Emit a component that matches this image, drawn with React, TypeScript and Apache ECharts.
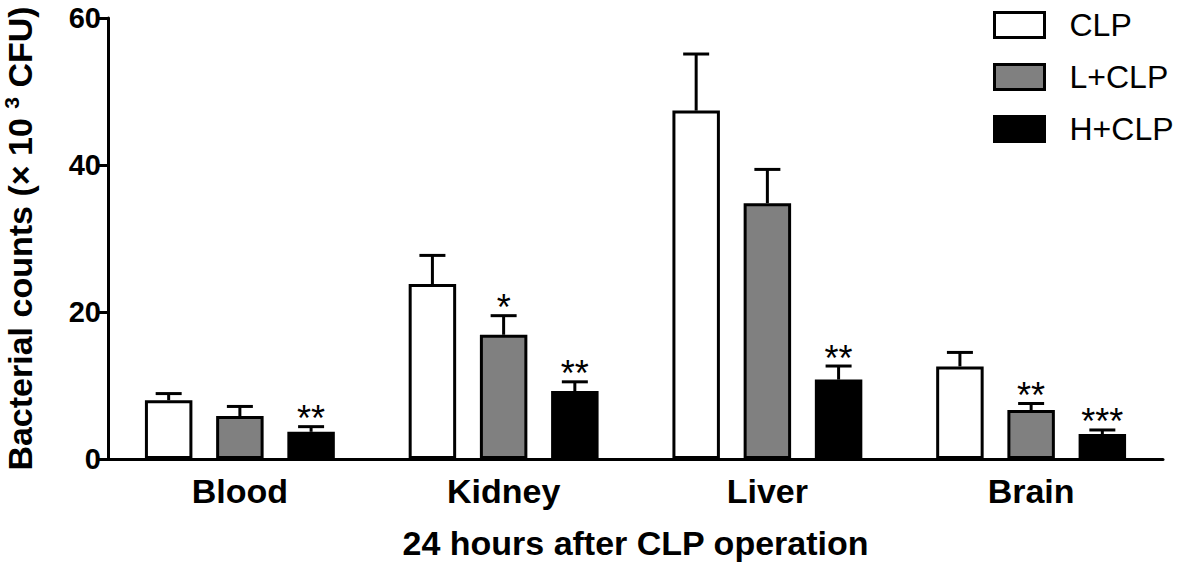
import React, { useEffect, useRef } from "react";
import * as echarts from "echarts";

const categories = ["Blood", "Kidney", "Liver", "Brain"];
const seriesNames = ["CLP", "L+CLP", "H+CLP"];
const clpValues = [8.0, 23.8, 47.4, 12.6];
const clpErrors = [0.9, 3.9, 7.7, 1.9];
const lclpValues = [5.85, 16.9, 34.8, 6.65];
const lclpErrors = [1.3, 2.6, 4.6, 0.9];
const hclpValues = [3.7, 9.25, 10.8, 3.4];
const hclpErrors = [0.7, 1.25, 1.85, 0.55];
const clpStars = ["", "", "", ""];
const lclpStars = ["", "*", "", "**"];
const hclpStars = ["**", "**", "**", "***"];
const yTicks = [0, 20, 40, 60];

const FONT = "Arial, 'Liberation Sans', Helvetica, sans-serif";
const BAR_FRAC = 0.18;
const GAP_FRAC = 0.5;

export default function App() {
  const ref = useRef<HTMLDivElement>(null);
  useEffect(() => {
    if (!ref.current) return;
    const chart = echarts.init(ref.current, null, { renderer: "svg" });
    const groups = [
      { name: seriesNames[0], values: clpValues, errors: clpErrors, stars: clpStars, color: "#ffffff" },
      { name: seriesNames[1], values: lclpValues, errors: lclpErrors, stars: lclpStars, color: "#808080" },
      { name: seriesNames[2], values: hclpValues, errors: hclpErrors, stars: hclpStars, color: "#000000" },
    ];
    const barSeries = groups.map((g) => ({
      type: "bar",
      name: g.name,
      data: g.values,
      barWidth: BAR_FRAC * 100 + "%",
      barGap: GAP_FRAC * 100 + "%",
      itemStyle: { color: g.color, borderColor: "#000", borderWidth: 3 },
      z: 2,
    }));
    const errSeries = groups.map((g, gi) => ({
      type: "custom",
      name: g.name + "-err",
      data: g.values.map((v, i) => [i, v, v + g.errors[i]]),
      z: 3,
      renderItem: (params: any, api: any) => {
        const idx = api.value(0);
        const band = api.size([1, 0])[0];
        const barW = band * BAR_FRAC;
        const off = (gi - 1) * barW * (1 + GAP_FRAC);
        const base = api.coord([idx, api.value(1)]);
        const top = api.coord([idx, api.value(2)]);
        const x = base[0] + off;
        const capHalf = 13;
        const star = g.stars[idx];
        const children: any[] = [
          { type: "line", shape: { x1: x, y1: base[1], x2: x, y2: top[1] }, style: { stroke: "#000", lineWidth: 3 } },
          { type: "line", shape: { x1: x - capHalf, y1: top[1], x2: x + capHalf, y2: top[1] }, style: { stroke: "#000", lineWidth: 3 } },
        ];
        if (star) {
          children.push({
            type: "text",
            x: x,
            y: top[1] + 10,
            style: { text: star, fill: "#000", font: "36px " + FONT, align: "center", verticalAlign: "bottom" },
          });
        }
        return { type: "group", children };
      },
    }));
    chart.setOption({
      animation: false,
      grid: { left: 108, right: 18, top: 18, bottom: 107, containLabel: false, outerBoundsMode: "none" },
      legend: {
        data: seriesNames,
        orient: "vertical",
        left: 993,
        top: 9,
        padding: 0,
        itemWidth: 50,
        itemHeight: 25,
        itemGap: 20,
        icon: "rect",
        textStyle: { fontFamily: FONT, fontSize: 32, color: "#000", padding: [0, 0, 0, 20] },
        itemStyle: { borderWidth: 3, borderColor: "#000" },
      },
      xAxis: {
        type: "category",
        data: categories,
        name: "24 hours after CLP operation",
        nameLocation: "middle",
        nameGap: 67,
        nameTextStyle: { fontFamily: FONT, fontSize: 34, fontWeight: "bold", color: "#000" },
        axisLine: { lineStyle: { color: "#000", width: 3 } },
        axisTick: { alignWithLabel: true, length: 11, lineStyle: { color: "#000", width: 3 } },
        axisLabel: { fontFamily: FONT, fontSize: 34, fontWeight: "bold", color: "#000", margin: 15 },
      },
      yAxis: {
        type: "value",
        min: yTicks[0],
        max: yTicks[yTicks.length - 1],
        interval: yTicks[1] - yTicks[0],
        name: "Bacterial counts (× 10 {sup|3} CFU)",
        nameLocation: "middle",
        nameGap: 70,
        nameTextStyle: {
          fontFamily: FONT,
          fontSize: 34,
          fontWeight: "bold",
          color: "#000",
          rich: {
            sup: { fontFamily: FONT, fontSize: 21, fontWeight: "bold", color: "#000", padding: [0, 0, 16, 0] },
          },
        },
        splitLine: { show: false },
        axisLine: { show: true, lineStyle: { color: "#000", width: 3 } },
        axisTick: { show: true, length: 11, lineStyle: { color: "#000", width: 3 } },
        axisLabel: { fontFamily: FONT, fontSize: 29, fontWeight: "bold", color: "#000", margin: 7 },
      },
      series: [...barSeries, ...errSeries],
    });
    return () => chart.dispose();
  }, []);
  return <div ref={ref} style={{ width: 1181, height: 566, position: "absolute", left: 0, top: 0 }} />;
}
